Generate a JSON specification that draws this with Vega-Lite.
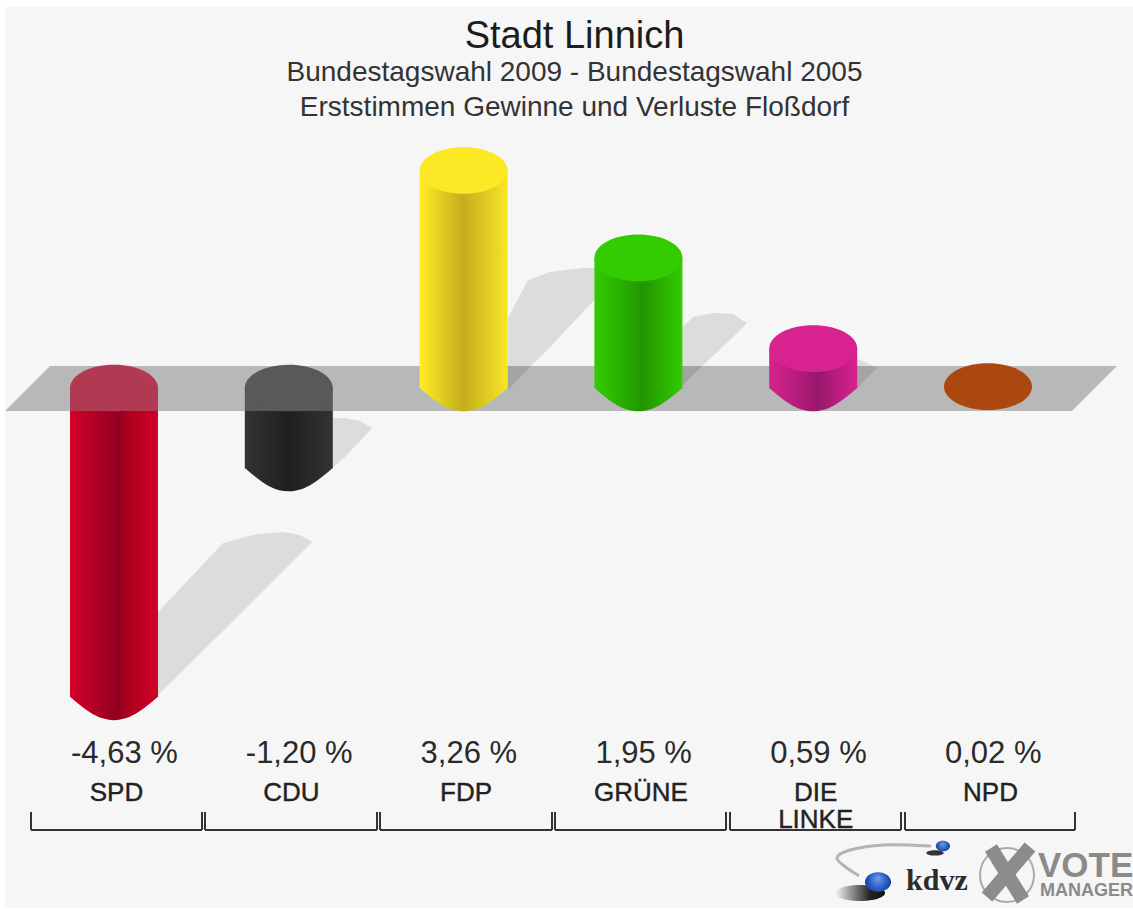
{
"$schema":"https://vega.github.io/schema/vega-lite/v6.json",
"width":1133,"height":911,"padding":0,"autosize":{"type":"none"},"background":"#ffffff",
"config":{"view":{"stroke":null},"font":"Liberation Sans","scale":{"continuousPadding":0}},
"title":{"text":"Stadt Linnich","subtitle":["Bundestagswahl 2009 - Bundestagswahl 2005","Erststimmen Gewinne und Verluste Floßdorf"],"anchor":"middle","frame":"group","dx":8,"offset":-122,"font":"Liberation Sans","fontSize":38,"fontWeight":"normal","color":"#1c1c1c","subtitleFont":"Liberation Sans","subtitleFontSize":28,"subtitleColor":"#333333","subtitleLineHeight":35,"subtitlePadding":3},
"datasets":{
"parties":[
{"party":"SPD","x":0,"value":-4.63,"label":"-4,63 %","name":"SPD","low":-4.63,"top":0,"bodyTop":-0.345},
{"party":"CDU","x":1,"value":-1.2,"label":"-1,20 %","name":"CDU","low":-1.2,"top":0,"bodyTop":-0.345},
{"party":"FDP","x":2,"value":3.26,"label":"3,26 %","name":"FDP","low":0,"top":3.26,"bodyTop":3.26},
{"party":"GRÜNE","x":3,"value":1.95,"label":"1,95 %","name":"GRÜNE","low":0,"top":1.95,"bodyTop":1.95},
{"party":"DIE LINKE","x":4,"value":0.59,"label":"0,59 %","name":"DIE\nLINKE","low":0,"top":0.59,"bodyTop":0.59},
{"party":"NPD","x":5,"value":0.02,"label":"0,02 %","name":"NPD","low":0.02,"top":0.02,"bodyTop":0.02}
],
"shadows":[
{"party":"SPD","x":0.2346,"y":-3.403,"y2":-4.648},{"party":"SPD","x":0.2632,"y":-3.328,"y2":-4.573},{"party":"SPD","x":0.6236,"y":-2.324,"y2":-3.643},{"party":"SPD","x":0.8181,"y":-2.189,"y2":-3.133},{"party":"SPD","x":0.9668,"y":-2.159,"y2":-2.744},{"party":"SPD","x":1.0641,"y":-2.204,"y2":-2.489},{"party":"SPD","x":1.1327,"y":-2.309,"y2":-2.309},
{"party":"CDU","x":1.2357,"y":-0.45,"y2":-1.229},{"party":"CDU","x":1.3215,"y":-0.45,"y2":-1.034},{"party":"CDU","x":1.4073,"y":-0.495,"y2":-0.795},{"party":"CDU","x":1.476,"y":-0.6,"y2":-0.6},
{"party":"FDP","x":2.254,"y":1.049,"y2":-0.03},{"party":"FDP","x":2.3684,"y":1.619,"y2":0.285},{"party":"FDP","x":2.4943,"y":1.739,"y2":0.615},{"party":"FDP","x":2.6831,"y":1.799,"y2":1.139},{"party":"FDP","x":2.7803,"y":1.799,"y2":1.409},
{"party":"GRÜNE","x":3.238,"y":0.87,"y2":0},{"party":"GRÜNE","x":3.3124,"y":1.064,"y2":0.195},{"party":"GRÜNE","x":3.4268,"y":1.124,"y2":0.48},{"party":"GRÜNE","x":3.5412,"y":1.109,"y2":0.765},{"party":"GRÜNE","x":3.6213,"y":0.975,"y2":0.975},
{"party":"DIE LINKE","x":4.2391,"y":0.45,"y2":-0.045},{"party":"DIE LINKE","x":4.2963,"y":0.39,"y2":0.12},{"party":"DIE LINKE","x":4.365,"y":0.3,"y2":0.3}
],
"band":[{"x":-0.6236,"y":-0.345,"y2":-0.345},{"x":-0.3661,"y":0.33,"y2":-0.345},{"x":5.4805,"y":0.33,"y2":-0.345},{"x":5.738,"y":0.33,"y2":0.33}],
"brackets":[{"x":-0.4748,"x2":0.5034},{"x":0.5206,"x2":1.5046},{"x":1.5217,"x2":2.5057},{"x":2.5229,"x2":3.5011},{"x":3.524,"x2":4.5023},{"x":4.5252,"x2":5.4977}],
"swoosh":[{"i":0,"x":4.668,"y":-6.867},{"i":1,"x":4.399,"y":-6.852},{"i":2,"x":4.211,"y":-6.927},{"i":3,"x":4.136,"y":-7.046},{"i":4,"x":4.193,"y":-7.196},{"i":5,"x":4.256,"y":-7.301}],
"cross":[{"x":5.0172,"x2":5.2002,"y":-6.897,"y2":-7.676},{"x":5.2403,"x2":4.9943,"y":-6.882,"y2":-7.631}]
},
"layer":[
{"data":{"values":[{"x":-0.6236,"x2":5.8295,"y":5.712,"y2":-7.796}]},"mark":{"type":"rect","fill":"#f6f6f6"},
 "encoding":{"x":{"field":"x","type":"quantitative","scale":{"domain":[-0.6522,5.8295]},"axis":null},"x2":{"field":"x2"},"y":{"field":"y","type":"quantitative","scale":{"domain":[-7.841,5.817]},"axis":null},"y2":{"field":"y2"}}},
{"data":{"name":"band"},"mark":{"type":"area","fill":"#b8b8b8"},
 "encoding":{"x":{"field":"x","type":"quantitative","scale":{"domain":[-0.6522,5.8295]},"axis":null},"y":{"field":"y","type":"quantitative","scale":{"domain":[-7.841,5.817]},"axis":null},"y2":{"field":"y2"}}},
{"data":{"name":"shadows"},"mark":{"type":"area","fill":"#000000","fillOpacity":0.105},
 "encoding":{"x":{"field":"x","type":"quantitative","scale":{"domain":[-0.6522,5.8295]},"axis":null},"y":{"field":"y","type":"quantitative","scale":{"domain":[-7.841,5.817]},"axis":null},"y2":{"field":"y2"},"detail":{"field":"party"}}},
{"data":{"name":"parties"},"transform":[{"filter":"datum.value < 0"}],"mark":{"type":"bar","size":88},
 "encoding":{"x":{"field":"x","type":"quantitative","scale":{"domain":[-0.6522,5.8295]},"axis":null},"y":{"datum":0,"type":"quantitative","scale":{"domain":[-7.841,5.817]},"axis":null},"y2":{"datum":-0.345},
 "fill":{"field":"party","legend":null,"scale":{"domain":["SPD","CDU","FDP","GRÜNE","DIE LINKE","NPD"],"range":["#b03a52","#595959","#fde826","#33cc00","#d8228f","#ab480f"]}}}},
{"layer":[
 {"mark":{"type":"bar","size":88,"fill":{"gradient":"linear","x1":0,"x2":1,"y1":0,"y2":0,"stops":[{"offset":0,"color":"#d40028"},{"offset":0.55,"color":"#920020"},{"offset":0.62,"color":"#a8001f"},{"offset":1,"color":"#d40028"}]}},"transform":[{"filter":"datum.party === 'SPD'"}]},
 {"mark":{"type":"bar","size":88,"fill":{"gradient":"linear","x1":0,"x2":1,"y1":0,"y2":0,"stops":[{"offset":0,"color":"#333333"},{"offset":0.5,"color":"#1f1f1f"},{"offset":1,"color":"#333333"}]}},"transform":[{"filter":"datum.party === 'CDU'"}]},
 {"mark":{"type":"bar","size":88,"fill":{"gradient":"linear","x1":0,"x2":1,"y1":0,"y2":0,"stops":[{"offset":0,"color":"#ffee26"},{"offset":0.5,"color":"#c4ac1c"},{"offset":0.52,"color":"#c8b01e"},{"offset":1,"color":"#f8e626"}]}},"transform":[{"filter":"datum.party === 'FDP'"}]},
 {"mark":{"type":"bar","size":88,"fill":{"gradient":"linear","x1":0,"x2":1,"y1":0,"y2":0,"stops":[{"offset":0,"color":"#33cc00"},{"offset":0.55,"color":"#229600"},{"offset":1,"color":"#33cc00"}]}},"transform":[{"filter":"datum.party === 'GRÜNE'"}]},
 {"mark":{"type":"bar","size":88,"fill":{"gradient":"linear","x1":0,"x2":1,"y1":0,"y2":0,"stops":[{"offset":0,"color":"#d8228f"},{"offset":0.55,"color":"#98186c"},{"offset":1,"color":"#d8228f"}]}},"transform":[{"filter":"datum.party === 'DIE LINKE'"}]}
 ],
 "data":{"name":"parties"},
 "encoding":{"x":{"field":"x","type":"quantitative","scale":{"domain":[-0.6522,5.8295]},"axis":null},"y":{"field":"bodyTop","type":"quantitative","scale":{"domain":[-7.841,5.817]},"axis":null},"y2":{"field":"low"}}},
{"layer":[
 {"mark":{"type":"point","filled":true,"opacity":1,"strokeWidth":0,"size":7744,"shape":"M-1,0C-0.7,0.25,-0.4,0.53,0,0.53C0.4,0.53,0.7,0.25,1,0L1,-0.02L-1,-0.02Z","fill":{"gradient":"linear","x1":0,"x2":1,"y1":0,"y2":0,"stops":[{"offset":0,"color":"#d40028"},{"offset":0.55,"color":"#920020"},{"offset":0.62,"color":"#a8001f"},{"offset":1,"color":"#d40028"}]}},"transform":[{"filter":"datum.party === 'SPD'"}]},
 {"mark":{"type":"point","filled":true,"opacity":1,"strokeWidth":0,"size":7744,"shape":"M-1,0C-0.7,0.25,-0.4,0.53,0,0.53C0.4,0.53,0.7,0.25,1,0L1,-0.02L-1,-0.02Z","fill":{"gradient":"linear","x1":0,"x2":1,"y1":0,"y2":0,"stops":[{"offset":0,"color":"#333333"},{"offset":0.5,"color":"#1f1f1f"},{"offset":1,"color":"#333333"}]}},"transform":[{"filter":"datum.party === 'CDU'"}]},
 {"mark":{"type":"point","filled":true,"opacity":1,"strokeWidth":0,"size":7744,"shape":"M-1,0C-0.7,0.25,-0.4,0.53,0,0.53C0.4,0.53,0.7,0.25,1,0L1,-0.02L-1,-0.02Z","fill":{"gradient":"linear","x1":0,"x2":1,"y1":0,"y2":0,"stops":[{"offset":0,"color":"#ffee26"},{"offset":0.5,"color":"#c4ac1c"},{"offset":0.52,"color":"#c8b01e"},{"offset":1,"color":"#f8e626"}]}},"transform":[{"filter":"datum.party === 'FDP'"}]},
 {"mark":{"type":"point","filled":true,"opacity":1,"strokeWidth":0,"size":7744,"shape":"M-1,0C-0.7,0.25,-0.4,0.53,0,0.53C0.4,0.53,0.7,0.25,1,0L1,-0.02L-1,-0.02Z","fill":{"gradient":"linear","x1":0,"x2":1,"y1":0,"y2":0,"stops":[{"offset":0,"color":"#33cc00"},{"offset":0.55,"color":"#229600"},{"offset":1,"color":"#33cc00"}]}},"transform":[{"filter":"datum.party === 'GRÜNE'"}]},
 {"mark":{"type":"point","filled":true,"opacity":1,"strokeWidth":0,"size":7744,"shape":"M-1,0C-0.7,0.25,-0.4,0.53,0,0.53C0.4,0.53,0.7,0.25,1,0L1,-0.02L-1,-0.02Z","fill":{"gradient":"linear","x1":0,"x2":1,"y1":0,"y2":0,"stops":[{"offset":0,"color":"#d8228f"},{"offset":0.55,"color":"#98186c"},{"offset":1,"color":"#d8228f"}]}},"transform":[{"filter":"datum.party === 'DIE LINKE'"}]},
 {"mark":{"type":"point","filled":true,"opacity":1,"strokeWidth":0,"size":7744,"shape":"M-1,0C-0.7,0.25,-0.4,0.53,0,0.53C0.4,0.53,0.7,0.25,1,0L1,-0.02L-1,-0.02Z","fill":"#ab480f"},"transform":[{"filter":"datum.party === 'NPD'"}]}
 ],
 "data":{"name":"parties"},
 "encoding":{"x":{"field":"x","type":"quantitative","scale":{"domain":[-0.6522,5.8295]},"axis":null},"y":{"field":"low","type":"quantitative","scale":{"domain":[-7.841,5.817]},"axis":null}}},
{"data":{"name":"parties"},"mark":{"type":"point","filled":true,"opacity":1,"strokeWidth":0,"shape":"M-1,0A1,0.53,0,1,1,1,0A1,0.53,0,1,1,-1,0Z","size":7744},
 "encoding":{"x":{"field":"x","type":"quantitative","scale":{"domain":[-0.6522,5.8295]},"axis":null},"y":{"field":"top","type":"quantitative","scale":{"domain":[-7.841,5.817]},"axis":null},
 "fill":{"field":"party","legend":null,"scale":{"domain":["SPD","CDU","FDP","GRÜNE","DIE LINKE","NPD"],"range":["#b03a52","#595959","#fde826","#33cc00","#d8228f","#ab480f"]}}}},
{"data":{"name":"parties"},"mark":{"type":"text","align":"left","dx":-43,"baseline":"alphabetic","fontSize":31,"color":"#2a2a2a","font":"Liberation Sans"},
 "encoding":{"x":{"field":"x","type":"quantitative","scale":{"domain":[-0.6522,5.8295]},"axis":null},"y":{"datum":-5.622,"type":"quantitative","scale":{"domain":[-7.841,5.817]},"axis":null},"text":{"field":"label"}}},
{"data":{"name":"parties"},"mark":{"type":"text","align":"center","dx":2.5,"baseline":"alphabetic","fontSize":26,"color":"#222222","stroke":"#222222","strokeWidth":0.4,"font":"Liberation Sans","lineBreak":"\n","lineHeight":27},
 "encoding":{"x":{"field":"x","type":"quantitative","scale":{"domain":[-0.6522,5.8295]},"axis":null},"y":{"datum":-6.192,"type":"quantitative","scale":{"domain":[-7.841,5.817]},"axis":null},"text":{"field":"name"}}},
{"data":{"name":"brackets"},"mark":{"type":"rule","color":"#333333","strokeWidth":2},
 "encoding":{"x":{"field":"x","type":"quantitative","scale":{"domain":[-0.6522,5.8295]},"axis":null},"x2":{"field":"x2"},"y":{"datum":-6.627,"type":"quantitative","scale":{"domain":[-7.841,5.817]},"axis":null}}},
{"data":{"name":"brackets"},"mark":{"type":"rule","color":"#333333","strokeWidth":2},
 "encoding":{"x":{"field":"x","type":"quantitative","scale":{"domain":[-0.6522,5.8295]},"axis":null},"y":{"datum":-6.357,"type":"quantitative","scale":{"domain":[-7.841,5.817]},"axis":null},"y2":{"datum":-6.627}}},
{"data":{"name":"brackets"},"mark":{"type":"rule","color":"#333333","strokeWidth":2},
 "encoding":{"x":{"field":"x2","type":"quantitative","scale":{"domain":[-0.6522,5.8295]},"axis":null},"y":{"datum":-6.357,"type":"quantitative","scale":{"domain":[-7.841,5.817]},"axis":null},"y2":{"datum":-6.627}}},
{"data":{"name":"swoosh"},"mark":{"type":"line","color":"#b4b4b4","strokeWidth":3,"interpolate":"cardinal","strokeCap":"round"},
 "encoding":{"x":{"field":"x","type":"quantitative","scale":{"domain":[-0.6522,5.8295]},"axis":null},"y":{"field":"y","type":"quantitative","scale":{"domain":[-7.841,5.817]},"axis":null},"order":{"field":"i","type":"quantitative"}}},
{"data":{"values":[{"x":4.268,"y":-7.571,"item":"a"}]},"mark":{"type":"point","filled":true,"opacity":1,"strokeWidth":0,"size":2500,"shape":"M-1,0A1,0.32,0,1,1,1,0A1,0.32,0,1,1,-1,0Z","fill":{"gradient":"linear","x1":0,"x2":1,"y1":0,"y2":0,"stops":[{"offset":0,"color":"#f6f6f6"},{"offset":0.7,"color":"#222222"},{"offset":1,"color":"#111111"}]}},
 "encoding":{"x":{"field":"x","type":"quantitative","scale":{"domain":[-0.6522,5.8295]},"axis":null},"y":{"field":"y","type":"quantitative","scale":{"domain":[-7.841,5.817]},"axis":null}}},
{"data":{"values":[{"x":4.697,"y":-6.97,"item":"b"}]},"mark":{"type":"point","filled":true,"opacity":1,"strokeWidth":0,"size":300,"shape":"M-1,0A1,0.3,0,1,1,1,0A1,0.3,0,1,1,-1,0Z","fill":"#333333"},
 "encoding":{"x":{"field":"x","type":"quantitative","scale":{"domain":[-0.6522,5.8295]},"axis":null},"y":{"field":"y","type":"quantitative","scale":{"domain":[-7.841,5.817]},"axis":null}}},
{"data":{"values":[{"x":4.3707,"y":-7.406,"s":680},{"x":4.742,"y":-6.867,"s":200}]},"mark":{"type":"point","filled":true,"opacity":1,"strokeWidth":0,"shape":"M-1,0A1,0.75,0,1,1,1,0A1,0.75,0,1,1,-1,0Z","fill":{"gradient":"radial","x1":0.5,"y1":0.35,"r1":0,"x2":0.5,"y2":0.5,"r2":0.6,"stops":[{"offset":0,"color":"#6f9fe8"},{"offset":0.6,"color":"#2457c0"},{"offset":1,"color":"#0c2a80"}]}},
 "encoding":{"x":{"field":"x","type":"quantitative","scale":{"domain":[-0.6522,5.8295]},"axis":null},"y":{"field":"y","type":"quantitative","scale":{"domain":[-7.841,5.817]},"axis":null},"size":{"field":"s","type":"quantitative","legend":null,"scale":null}}},
{"data":{"values":[{"x":4.531,"t":"kdvz"}]},"mark":{"type":"text","align":"left","baseline":"alphabetic","font":"Liberation Serif","fontWeight":"bold","fontSize":30,"color":"#2b2b2b"},
 "encoding":{"x":{"field":"x","type":"quantitative","scale":{"domain":[-0.6522,5.8295]},"axis":null},"y":{"datum":-7.526,"type":"quantitative","scale":{"domain":[-7.841,5.817]},"axis":null},"text":{"field":"t"}}},
{"data":{"values":[{"x":5.1087,"y":-7.301,"r":"ring"}]},"mark":{"type":"point","filled":false,"shape":"circle","size":2916,"stroke":"#aaaaaa","strokeWidth":2,"opacity":1},
 "encoding":{"x":{"field":"x","type":"quantitative","scale":{"domain":[-0.6522,5.8295]},"axis":null},"y":{"field":"y","type":"quantitative","scale":{"domain":[-7.841,5.817]},"axis":null}}},
{"data":{"name":"cross"},"mark":{"type":"rule","color":"#8c8c8c","strokeWidth":14},
 "encoding":{"x":{"field":"x","type":"quantitative","scale":{"domain":[-0.6522,5.8295]},"axis":null},"x2":{"field":"x2"},"y":{"field":"y","type":"quantitative","scale":{"domain":[-7.841,5.817]},"axis":null},"y2":{"field":"y2"}}},
{"data":{"values":[{"x":5.286,"t":"VOTE"}]},"mark":{"type":"text","align":"left","baseline":"alphabetic","font":"Liberation Sans","fontWeight":"bold","fontSize":35,"color":"#8a8a8a"},
 "encoding":{"x":{"field":"x","type":"quantitative","scale":{"domain":[-0.6522,5.8295]},"axis":null},"y":{"datum":-7.331,"type":"quantitative","scale":{"domain":[-7.841,5.817]},"axis":null},"text":{"field":"t"}}},
{"data":{"values":[{"x":5.297,"t":"MANAGER"}]},"mark":{"type":"text","align":"left","baseline":"alphabetic","font":"Liberation Sans","fontWeight":"bold","fontSize":18,"color":"#8a8a8a"},
 "encoding":{"x":{"field":"x","type":"quantitative","scale":{"domain":[-0.6522,5.8295]},"axis":null},"y":{"datum":-7.616,"type":"quantitative","scale":{"domain":[-7.841,5.817]},"axis":null},"text":{"field":"t"}}}
]
}
